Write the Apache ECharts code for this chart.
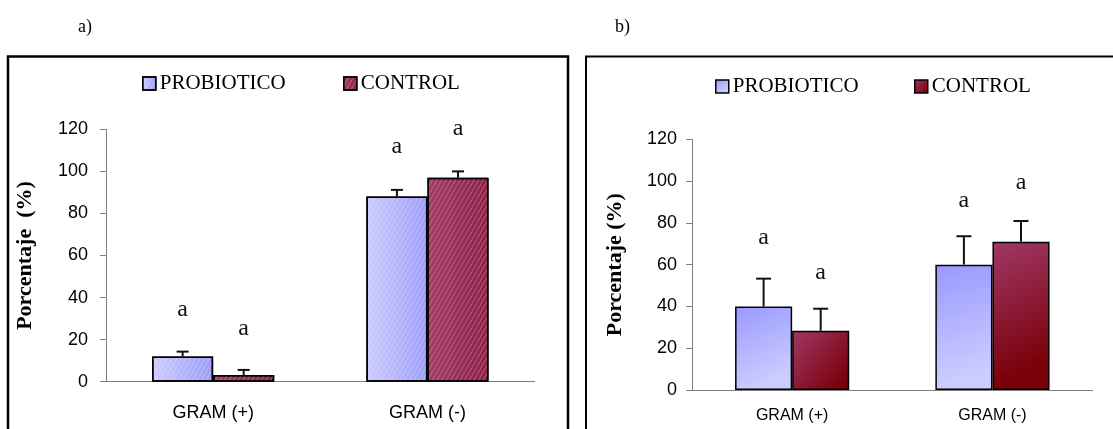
<!DOCTYPE html>
<html>
<head>
<meta charset="utf-8">
<script src="https://cdn.jsdelivr.net/npm/echarts@6/dist/echarts.min.js"></script>
<style>
  html, body { margin: 0; padding: 0; background: #fff; }
  #chart { width: 1113px; height: 429px; }
</style>
</head>
<body>
<div id="chart"></div>
<script>
// categories and values
var categories = ['GRAM (+)', 'GRAM (-)'];
var yTicks = { min: 0, max: 120, step: 20 };

// panel a)
var probA = [12, 88];
var probAErr = [2.3, 3.2];
var ctrlA = [3.2, 97];
var ctrlAErr = [2.4, 3];
var probALetterY = [34, 111.7];
var ctrlALetterY = [25.4, 120.5];

// panel b)
var probB = [40, 60];
var probBErr = [13.3, 13.6];
var ctrlB = [28.4, 71];
var ctrlBErr = [10.5, 9.9];
var probBLetterY = [73, 90.5];
var ctrlBLetterY = [56, 99.2];

var letters = ['a', 'a'];

var SERIF = '"Times New Roman", "Liberation Serif", serif';
var SANS = 'Arial, "Liberation Sans", sans-serif';

function grad(x, y, x2, y2, c1, c2) {
    return { type: 'linear', x: x, y: y, x2: x2, y2: y2,
        colorStops: [{ offset: 0, color: c1 }, { offset: 1, color: c2 }] };
}

var probAColor = grad(0, 0, 1, 0, '#ccccff', '#9c9cf8');
var ctrlAColor = grad(0, 0, 1, 0, '#a33a66', '#8c2048');
var probBColor = grad(0, 0, 0.6, 0.9, '#9999ff', '#ccccff');
var ctrlBColor = grad(0, 0, 1, 0.8, '#a03868', '#7a0008');

var hatch = {
    symbol: 'rect', symbolSize: 1, color: 'rgba(255,255,255,0.25)',
    dashArrayX: [1, 0], dashArrayY: [1, 3], rotation: -Math.PI / 3
};

function barSeries(name, grid, data, color, decal) {
    return {
        name: name, type: 'bar', xAxisIndex: grid, yAxisIndex: grid,
        data: data, barGap: '0%', barCategoryGap: '43%',
        itemStyle: { color: color, borderColor: '#000', borderWidth: 1.5, decal: decal },
        emphasis: { disabled: true }, z: 2
    };
}

// error bar (upper only) plus the significance letter
function errSeries(grid, vals, errs, letterY, side, capW) {
    return {
        type: 'custom', xAxisIndex: grid, yAxisIndex: grid, z: 4,
        data: vals.map(function (v, i) { return [i, v, v + errs[i], letterY[i]]; }),
        renderItem: function (params, api) {
            var band = api.size([1, 0])[0];
            var off = side * band * 0.57 / 4;
            var x = api.coord([api.value(0), 0])[0] + off;
            var yb = api.coord([api.value(0), api.value(1)])[1];
            var yt = api.coord([api.value(0), api.value(2)])[1];
            var yl = api.coord([api.value(0), api.value(3)])[1];
            return {
                type: 'group',
                children: [
                    { type: 'line', shape: { x1: x, y1: yb, x2: x, y2: yt },
                      style: { stroke: '#111', lineWidth: 2 } },
                    { type: 'line', shape: { x1: x - capW / 2, y1: yt, x2: x + capW / 2, y2: yt },
                      style: { stroke: '#111', lineWidth: 2 } },
                    { type: 'text', x: x, y: yl,
                      style: { text: letters[params.dataIndex], font: '24px ' + SERIF,
                               fill: '#111', align: 'center', verticalAlign: 'middle' } }
                ]
            };
        }
    };
}

function xAxis(grid, fontSize, margin) {
    return {
        type: 'category', gridIndex: grid, data: categories,
        axisLine: { lineStyle: { color: '#808080', width: 1 } },
        axisTick: { length: 6, lineStyle: { color: '#808080' } },
        axisLabel: { color: '#000', fontFamily: SANS, fontSize: fontSize, margin: margin }
    };
}

function yAxis(grid, name, margin, nameGap) {
    return {
        type: 'value', gridIndex: grid, min: yTicks.min, max: yTicks.max, interval: yTicks.step,
        name: name, nameLocation: 'middle', nameRotate: 90, nameGap: nameGap,
        nameTextStyle: { color: '#000', fontFamily: SERIF, fontWeight: 'bold', fontSize: 22 },
        splitLine: { show: false },
        axisLine: { show: true, lineStyle: { color: '#808080', width: 1 } },
        axisTick: { show: true, length: 6, lineStyle: { color: '#808080' } },
        axisLabel: { color: '#000', fontFamily: SANS, fontSize: 18, margin: margin }
    };
}

function legendItem(name, left, top, style) {
    var item = { name: name, icon: 'rect' };
    if (style) item.itemStyle = style;
    return {
        data: [item], left: left, top: top, selectedMode: false,
        itemWidth: 13, itemHeight: 13, padding: 0,
        itemStyle: { borderColor: '#000', borderWidth: 1.5 },
        textStyle: { color: '#000', fontFamily: SERIF, fontSize: 21, padding: [0, 0, 0, -1] }
    };
}

var option = {
    animation: false,
    backgroundColor: '#fff',
    grid: [
        { left: 106, top: 129.3, width: 428.6, height: 252.4, outerBoundsMode: 'none' },
        { left: 692, top: 139.3, width: 400.6, height: 250.7, outerBoundsMode: 'none' }
    ],
    xAxis: [xAxis(0, 18, 22), xAxis(1, 16, 18)],
    yAxis: [yAxis(0, 'Porcentaje  (%)', 18, 70), yAxis(1, 'Porcentaje (%)', 15, 66)],
    legend: [
        legendItem('PROBIOTICO', 142, 73),
        legendItem('CONTROL', 343, 73),
        legendItem('PROBIOTICO', 715, 76, { color: probBColor, decal: 'none' }),
        legendItem('CONTROL', 914, 76, { color: ctrlBColor, decal: 'none' })
    ],
    graphic: [
        { type: 'rect', shape: { x: 8, y: 56.5, width: 560, height: 420 },
          style: { fill: 'none', stroke: '#000', lineWidth: 2.5 } },
        { type: 'rect', shape: { x: 586, y: 56.5, width: 560, height: 420 },
          style: { fill: 'none', stroke: '#000', lineWidth: 2 } },
        { type: 'text', x: 78, y: 27,
          style: { text: 'a)', font: '18px ' + SERIF, fill: '#000', verticalAlign: 'middle' } },
        { type: 'text', x: 615, y: 27,
          style: { text: 'b)', font: '18px ' + SERIF, fill: '#000', verticalAlign: 'middle' } }
    ],
    series: [
        barSeries('PROBIOTICO', 0, probA, probAColor, hatch),
        barSeries('CONTROL', 0, ctrlA, ctrlAColor, hatch),
        barSeries('PROBIOTICO', 1, probB, probBColor, null),
        barSeries('CONTROL', 1, ctrlB, ctrlBColor, null),
        errSeries(0, probA, probAErr, probALetterY, -1, 12),
        errSeries(0, ctrlA, ctrlAErr, ctrlALetterY, 1, 12),
        errSeries(1, probB, probBErr, probBLetterY, -1, 15),
        errSeries(1, ctrlB, ctrlBErr, ctrlBLetterY, 1, 15)
    ]
};

var chart = echarts.init(document.getElementById('chart'), null, { renderer: 'canvas' });
chart.setOption(option);
</script>
</body>
</html>
